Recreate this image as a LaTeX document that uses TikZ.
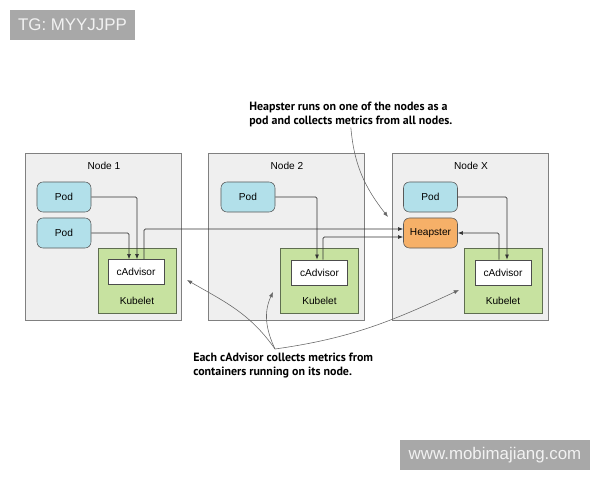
\documentclass[tikz,border=0pt]{standalone}
\usepackage{fontspec}
\setmainfont{Liberation Sans}
\newfontfamily\notefont{PT Sans}
\usetikzlibrary{positioning,arrows.meta}
\definecolor{hostgray}{RGB}{239,239,239}
\definecolor{podblue}{RGB}{178,224,234}
\definecolor{heaporange}{RGB}{246,176,104}
\definecolor{kubgreen}{RGB}{199,226,160}
\definecolor{kubline}{RGB}{95,110,80}
\definecolor{wmgray}{RGB}{168,168,168}

\begin{document}
\begin{tikzpicture}[
  x=0.025cm,y=-0.025cm,
  font=\fontsize{7.2}{8}\selectfont,
  host/.style={draw=black!50,fill=hostgray,minimum width=3.9cm,minimum height=4.175cm,inner sep=0pt},
  pod/.style={draw=black!65,fill=podblue,rounded corners=0.15cm,minimum width=1.35cm,minimum height=0.75cm,inner sep=0pt},
  hp/.style={pod,fill=heaporange},
  kub/.style={draw=kubline,fill=kubgreen,minimum width=1.95cm,minimum height=1.625cm,inner sep=0pt},
  cadv/.style={draw=black!70,fill=white,minimum width=1.4cm,minimum height=0.625cm,inner sep=0pt},
  >={Latex[length=1.3mm,width=1mm]},
  fl/.style={->,black!80,line width=0.5pt,rounded corners=1pt},
  ann/.style={->,black!60,line width=0.4pt},
  note/.style={font=\notefont\bfseries\fontsize{8.5}{10}\selectfont,align=left,inner sep=0pt},
  wm/.style={fill=wmgray,text=white!95!black,font=\fontsize{12}{14}\selectfont,inner sep=0pt}
]
\useasboundingbox (0,0) rectangle (600,480);
% watermarks
\node[wm,minimum width=3.125cm,minimum height=0.75cm] (tg) at (72.5,25) {TG: MYYJJPP};
\node[wm,minimum width=4.75cm,minimum height=0.75cm] (www) at (495,455) {www.mobimajiang.com};
% hosts
\node[host] (n1) at (103.5,236.5) {};
\node[host] (n2) at (286.5,236.5) {};
\node[host] (nx) at (470,236.5) {};
\node (n1t) at (104,166) {Node 1};
\node (n2t) at (287,166) {Node 2};
\node (nxt) at (471,166) {Node X};
% pods
\node[pod] (p11) at (64,197) {Pod};
\node[pod] (p12) at (64,233) {Pod};
\node[pod] (p21) at (248,197) {Pod};
\node[pod] (px1) at (430.5,197) {Pod};
\node[hp] (hp) at (430.5,233) {Heapster};
% kubelets with cadvisor
\node[kub] (k1) at (137,281) {};
\node[kub] (k2) at (319.5,281) {};
\node[kub] (kx) at (503,281) {};
\node[cadv] (c1) at (136,272) {cAdvisor};
\node[cadv] (c2) at (319.5,272.5) {cAdvisor};
\node[cadv] (cx) at (503,272.5) {cAdvisor};
\node (k1l) at (137,301) {Kubelet};
\node (k2l) at (319.5,301) {Kubelet};
\node (kxl) at (503,301) {Kubelet};
% pods to cadvisor
\draw[fl] (p11) -| ([xshift=0.025cm]c1.north);
\draw[fl] (p12) -| ([xshift=-0.175cm]c1.north);
\draw[fl] (p21) -| ([xshift=-0.0625cm]c2.north);
\draw[fl] (px1) -| ([xshift=0.1cm]cx.north);
% cadvisor to heapster
\draw[fl] ([xshift=0.2cm]c1.north) |- ([yshift=0.1cm]hp.west);
\draw[fl] ([xshift=0.0875cm]c2.north) |- ([yshift=-0.1cm]hp.west);
\draw[fl] ([xshift=-0.1cm]cx.north) |- (hp.east);
% notes
\node[note,anchor=north west] (hnote) at (249,102) {Heapster runs on one of the nodes as a\\pod and collects metrics from all nodes.};
\node[note,anchor=north west] (enote) at (193,353) {Each cAdvisor collects metrics from\\containers running on its node.};
\coordinate (hend) at (388,217);
\coordinate (efork) at (275,349);
\coordinate (e1) at (187,280);
\coordinate (e2) at (273,292);
\coordinate (ex) at (459,290);
\draw[ann] (hnote.south) to[out=-85,in=128] (hend);
\draw[ann] (efork) to[out=125,in=-30] (e1);
\draw[ann] (efork) to[out=115,in=-115] (e2);
\draw[ann] (efork) to[out=8,in=205] (ex);
\end{tikzpicture}
\end{document}
